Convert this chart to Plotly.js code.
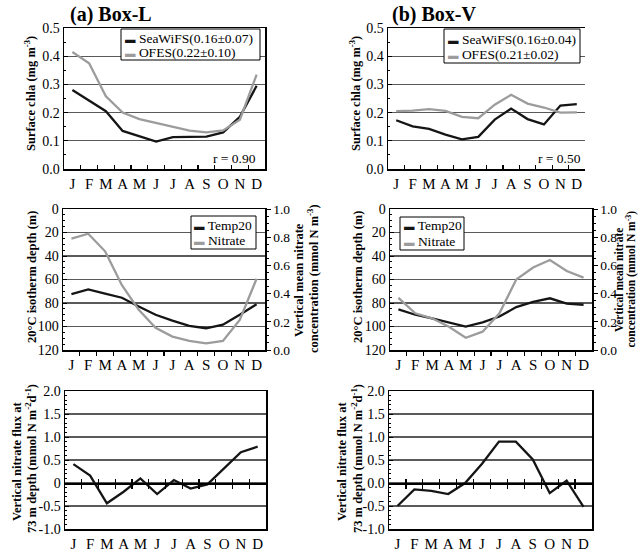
<!DOCTYPE html>
<html>
<head>
<meta charset="utf-8">
<script src="https://cdn.plot.ly/plotly-3.0.1.min.js"></script>
<style>html,body{margin:0;padding:0;background:#fff;}#chart{width:638px;height:558px;}</style>
</head>
<body>
<div id="chart"></div>
<script>
// ---------------- data ----------------
const months = ['J','F','M','A','M','J','J','A','S','O','N','D'];
const monthNum = [1,2,3,4,5,6,7,8,9,10,11,12];

const chlaSeaWiFS_L = [0.280,0.242,0.205,0.135,0.115,0.097,0.113,0.113,0.115,0.130,0.185,0.295];
const chlaOFES_L    = [0.415,0.375,0.258,0.200,0.177,0.163,0.149,0.136,0.130,0.137,0.175,0.335];
const chlaSeaWiFS_V = [0.173,0.151,0.142,0.122,0.105,0.114,0.175,0.214,0.177,0.158,0.225,0.230];
const chlaOFES_V    = [0.205,0.207,0.212,0.206,0.185,0.180,0.228,0.263,0.232,0.218,0.200,0.201];

const temp20_L  = [72.5,68.5,72,75.5,83,90,95,99.5,101.5,98.5,90,81];
const nitrate_L = [0.790,0.825,0.700,0.460,0.285,0.158,0.095,0.064,0.047,0.064,0.213,0.505];
const temp20_V  = [85.5,90,93,96.5,100,96.5,91.5,83.5,79,76,80.5,81.5];
const nitrate_V = [0.370,0.260,0.225,0.165,0.087,0.130,0.260,0.500,0.585,0.638,0.560,0.513];

const flux_L = [0.41,0.16,-0.44,-0.19,0.10,-0.24,0.065,-0.12,-0.03,0.33,0.67,0.79];
const flux_V = [-0.50,-0.14,-0.17,-0.24,0.00,0.42,0.90,0.90,0.51,-0.22,0.05,-0.52];

const fluxTickVals  = [-1,-0.5,0,0.5,1,1.5,2];
const fluxTickTextL = ['-1.0','-0.5','0','0.5','1.0','1.5','2.0'];
const fluxTickTextV = ['-1.0','-0.5','0.0','0.5','1.0','1.5','2.0'];

const legendNamesL = ['SeaWiFS(0.16\u00b10.07)','OFES(0.22\u00b10.10)'];
const legendNamesV = ['SeaWiFS(0.16\u00b10.04)','OFES(0.21\u00b10.02)'];
const legendNamesMid = ['Temp20','Nitrate'];
const corrL = 'r = 0.90', corrV = 'r = 0.50';

// ---------------- helpers ----------------
const W = 638, H = 558;
const xd = (a,b) => [a/W, b/W];
const yd = (top,bot) => [1-bot/H, 1-top/H];
const FONT = '"Liberation Serif", "Times New Roman", serif';
const BLACK = '#151515', GRAY = '#9c9c9c', GRID = '#5a5a5a';
const boundaries = monthNum.slice(0,-1).map(m => m + 0.5);

function line(x, y, xa, ya, color, name) {
  return {x:x, y:y, xaxis:xa, yaxis:ya, type:'scatter', mode:'lines', name:name,
          line:{color:color, width:2.3}, showlegend:false, hoverinfo:'skip'};
}
function dummy(xa, ya) {
  return {x:[], y:[], xaxis:xa, yaxis:ya, type:'scatter', mode:'lines', showlegend:false, hoverinfo:'skip'};
}

const data = [
  line(monthNum, chlaSeaWiFS_L, 'x','y', BLACK, legendNamesL[0]),
  line(monthNum, chlaOFES_L,    'x','y', GRAY,  legendNamesL[1]),
  line(monthNum, chlaSeaWiFS_V, 'x2','y2', BLACK, legendNamesV[0]),
  line(monthNum, chlaOFES_V,    'x2','y2', GRAY,  legendNamesV[1]),
  line(monthNum, temp20_L,  'x3','y3', BLACK, legendNamesMid[0]),
  line(monthNum, nitrate_L, 'x3','y4', GRAY,  legendNamesMid[1]),
  line(monthNum, temp20_V,  'x4','y5', BLACK, legendNamesMid[0]),
  line(monthNum, nitrate_V, 'x4','y6', GRAY,  legendNamesMid[1]),
  line(monthNum, flux_L, 'x5','y7', BLACK, 'flux'),
  line(monthNum, flux_V, 'x6','y8', BLACK, 'flux'),
  dummy('x7','y7'), dummy('x8','y7'), dummy('x9','y8'), dummy('x10','y8')
];

function monthAxis(dom, anchor, tickDir, showTicks) {
  const ax = {domain:dom, anchor:anchor, range:[0.5,12.5], tickmode:'array', tickvals:monthNum, ticktext:months,
    ticks:'', showline:true, linewidth:1.5, linecolor:'black', mirror:true, showgrid:false, zeroline:false,
    tickfont:{size:15, family:FONT, color:'black'}, fixedrange:true};
  if (showTicks) ax.minor = {ticks:tickDir, tickmode:'array', tickvals:boundaries, ticklen:4, tickwidth:1.2, tickcolor:'black', showgrid:false};
  return ax;
}
function valAxis(dom, anchor, range, extra) {
  return Object.assign({domain:dom, anchor:anchor, range:range, showline:true, linewidth:1.5, linecolor:'black',
    mirror:true, showgrid:true, gridcolor:GRID, gridwidth:1.3, zeroline:false, ticks:'inside', ticklen:4,
    tickcolor:'black', tickfont:{size:14, family:FONT, color:'black'}, fixedrange:true}, extra);
}
function zeroAxis(overlay, dom, yDom, dir) {
  return {overlaying:overlay, anchor:'free', position: yDom[0] + (yDom[1]-yDom[0])/3, domain:dom,
    range:[0.5,12.5], tickmode:'array', tickvals:boundaries, showticklabels:false, ticks:dir, ticklen:4,
    tickwidth:1.2, tickcolor:'black', showline:true, linewidth:1.5, linecolor:'black', showgrid:false, zeroline:false, fixedrange:true};
}
function ann(text, x, y, opts) {
  return Object.assign({text:text, x:x/W, y:1-y/H, xref:'paper', yref:'paper', xanchor:'center', yanchor:'middle',
    showarrow:false, font:{size:12, family:FONT, color:'black'}}, opts || {});
}
function vtitle(text, x, y, size) {
  return ann('<b>' + text + '</b>', x, y, {textangle:-90, font:{size:size || 12.5, family:FONT, color:'black'}});
}
// legend entries (frame drawn as a paper shape)
function legendAnns(names, x0, y1, y2) {
  const sw = c => '<span style="color:' + c + ';font-size:10.5px">\u25ac</span> ';
  return [
    ann(sw(BLACK) + names[0], x0, y1, {xanchor:'left', font:{size:13.5, family:FONT, color:'black'}}),
    ann(sw(GRAY) + names[1], x0, y2, {xanchor:'left', font:{size:13.5, family:FONT, color:'black'}})
  ];
}
function legendFrame(box) {
  return {type:'rect', xref:'paper', yref:'paper', x0:box[0]/W, x1:box[2]/W, y0:1-box[3]/H, y1:1-box[1]/H,
    line:{color:'black', width:1}, fillcolor:'white', layer:'above'};
}

const dTopA = yd(28,169), dMid = yd(209,350), dBot = yd(391,529);
const rightFont = {size:13.5, family:FONT, color:'black'};

const layout = {
  width:W, height:H, margin:{l:0,r:0,t:0,b:0}, paper_bgcolor:'white', plot_bgcolor:'white',
  font:{family:FONT, color:'black', size:13}, showlegend:false,
  xaxis:  monthAxis(xd(64,265), 'y', 'inside', true),
  yaxis:  valAxis(dTopA, 'x', [0,0.5], {dtick:0.1, tickformat:'.1f', minor:{ticks:'inside', dtick:0.05, ticklen:2, tickcolor:'black'}}),
  xaxis2: monthAxis(xd(388,585), 'y2', 'inside', true),
  yaxis2: valAxis(dTopA, 'x2', [0,0.5], {dtick:0.1, tickformat:'.1f', mirror:false, minor:{ticks:'inside', dtick:0.05, ticklen:2, tickcolor:'black'}}),
  xaxis3: monthAxis(xd(63,265), 'y3', 'outside', true),
  yaxis3: valAxis(dMid, 'x3', [120,0], {dtick:20, minor:{ticks:'inside', dtick:5, ticklen:2, tickcolor:'black'}}),
  yaxis4: valAxis(dMid, 'x3', [0,1], {overlaying:'y3', side:'right', dtick:0.2, tickformat:'.1f', showgrid:false, mirror:false, ticks:'outside', tickfont:rightFont, minor:{ticks:'outside', dtick:0.05, ticklen:2, tickcolor:'black'}}),
  xaxis4: monthAxis(xd(390,592), 'y5', 'outside', true),
  yaxis5: valAxis(dMid, 'x4', [120,0], {dtick:20, minor:{ticks:'inside', dtick:5, ticklen:2, tickcolor:'black'}}),
  yaxis6: valAxis(dMid, 'x4', [0,1], {overlaying:'y5', side:'right', dtick:0.2, tickformat:'.1f', showgrid:false, mirror:false, ticks:'outside', tickfont:rightFont, minor:{ticks:'outside', dtick:0.05, ticklen:2, tickcolor:'black'}}),
  xaxis5: monthAxis(xd(65,266), 'y7', '', false),
  yaxis7: valAxis(dBot, 'x5', [-1,2], {tickmode:'array', tickvals:fluxTickVals, ticktext:fluxTickTextL, minor:{ticks:'inside', dtick:0.1, ticklen:2, tickcolor:'black'}}),
  xaxis6: monthAxis(xd(389,592), 'y8', '', false),
  yaxis8: valAxis(dBot, 'x6', [-1,2], {tickmode:'array', tickvals:fluxTickVals, ticktext:fluxTickTextV, minor:{ticks:'inside', dtick:0.1, ticklen:2, tickcolor:'black'}}),
  xaxis7:  zeroAxis('x5', xd(65,266), dBot, 'outside'),
  xaxis8:  zeroAxis('x5', xd(65,266), dBot, 'inside'),
  xaxis9:  zeroAxis('x6', xd(389,592), dBot, 'outside'),
  xaxis10: zeroAxis('x6', xd(389,592), dBot, 'inside'),
  shapes: [
    legendFrame([121,29,260,60]),
    legendFrame([444,29,580,63]),
    legendFrame([191,216,256,249]),
    legendFrame([400,217,464,250])
  ],
  annotations: [
    ann('<b>(a) Box-L</b>', 68, 15, {xanchor:'left', font:{size:20, family:FONT, color:'black'}}),
    ann('<b>(b) Box-V</b>', 390, 15, {xanchor:'left', font:{size:20, family:FONT, color:'black'}}),
    ann(corrL, 258, 158, {xanchor:'right', font:{size:13.5, family:FONT, color:'black'}}),
    ann(corrV, 583, 158, {xanchor:'right', font:{size:13.5, family:FONT, color:'black'}}),
    ...legendAnns(legendNamesL, 123, 38.5, 52.5),
    ...legendAnns(legendNamesV, 446, 39.5, 54),
    ...legendAnns(legendNamesMid, 192, 225, 240),
    ...legendAnns(legendNamesMid, 402, 226, 241),
    vtitle('Surface chla (mg m<sup>-3</sup>)', 30, 94),
    vtitle('Surface chla (mg m<sup>-3</sup>)', 355, 94),
    vtitle('20\u00b0C isotherm depth (m)', 32, 277),
    vtitle('20\u00b0C isotherm depth (m)', 358, 277),
    vtitle('Vertical mean nitrate', 299, 280),
    vtitle('concentration (mmol N m<sup>-3</sup>)', 313, 279),
    vtitle('Vertical mean nitrate', 619, 280, 11.5),
    vtitle('concentration (mmol N m<sup>-3</sup>)', 630.5, 279, 11.5),
    vtitle('Vertical nitrate flux at', 17, 462),
    vtitle('73 m depth (mmol N m<sup>-2</sup>d<sup>-1</sup>)', 31, 459),
    vtitle('Vertical nitrate flux at', 342, 462),
    vtitle('73 m depth (mmol N m<sup>-2</sup>d<sup>-1</sup>)', 357, 459)
  ]
};

Plotly.newPlot('chart', data, layout, {staticPlot:true, displayModeBar:false});
</script>
</body>
</html>
